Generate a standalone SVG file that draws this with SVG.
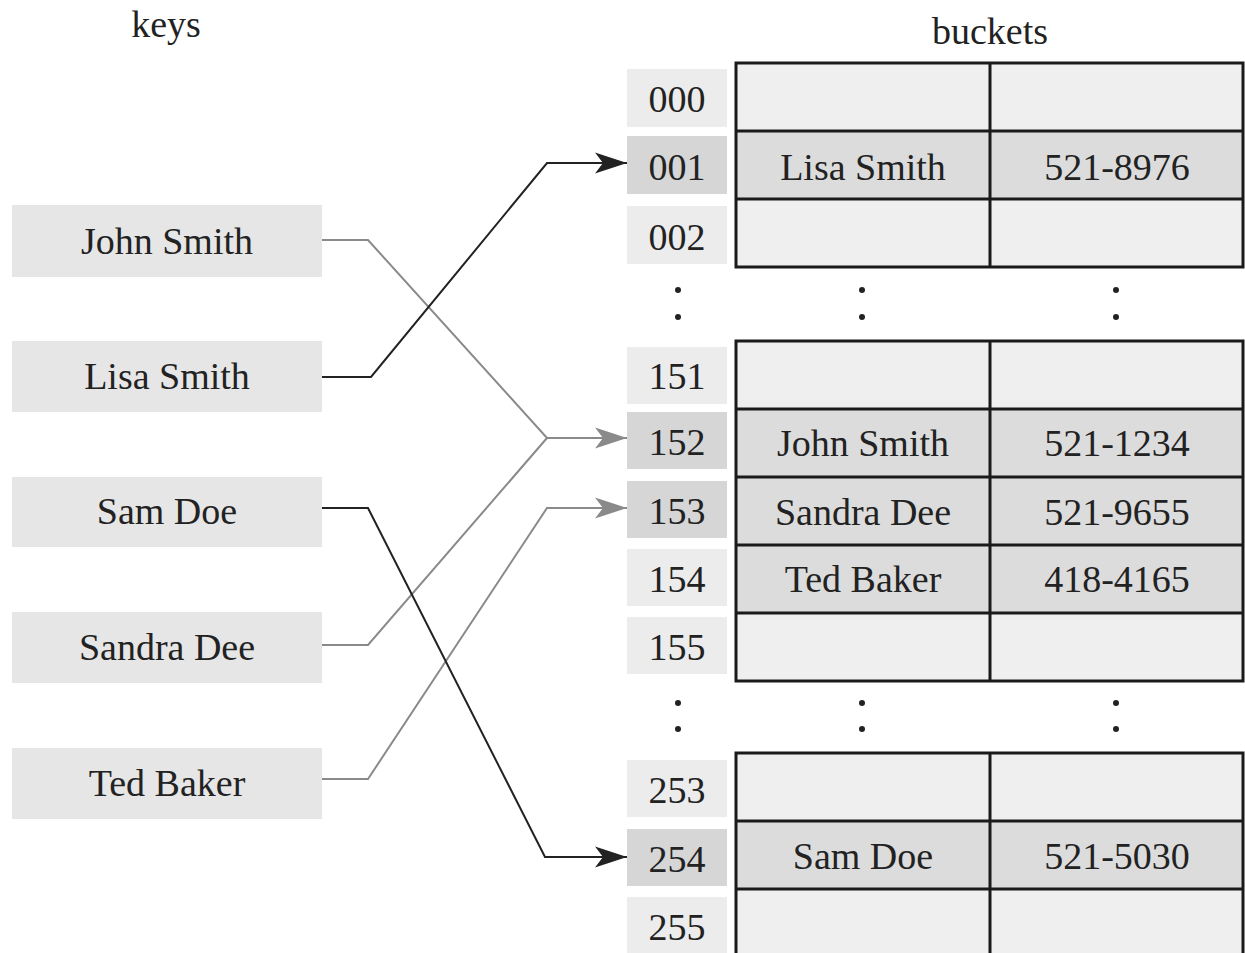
<svg xmlns="http://www.w3.org/2000/svg" width="1245" height="953" viewBox="0 0 1245 953">
<style>
text{font-family:"Liberation Serif","Times New Roman",serif;font-size:38px;fill:#222;text-anchor:middle}
.key{fill:#e6e6e6}
.idx{fill:#ececec}
.idxh{fill:#d6d6d6}
.ce{fill:#efefef}
.cf{fill:#dcdcdc}
.grid{stroke:#1a1a1a;stroke-width:3;fill:none}
.cg{stroke:#8a8a8a;stroke-width:2;fill:none}
.cb{stroke:#222;stroke-width:2;fill:none}
.dot{fill:#222}
</style>
<defs>
<marker id="ag" markerUnits="userSpaceOnUse" markerWidth="34" markerHeight="24" viewBox="0 0 34 24" refX="32" refY="12" orient="auto"><path d="M0,1.5 L32,12 L0,22.5 L8,12 Z" fill="#8a8a8a"/></marker>
<marker id="ab" markerUnits="userSpaceOnUse" markerWidth="34" markerHeight="24" viewBox="0 0 34 24" refX="32" refY="12" orient="auto"><path d="M0,1.5 L32,12 L0,22.5 L8,12 Z" fill="#222"/></marker>
</defs>
<rect width="1245" height="953" fill="#fff"/>
<text x="166" y="37">keys</text>
<text x="990" y="44">buckets</text>

<g id="key-john"><rect class="key" x="12" y="205" width="310" height="72"/><text x="167" y="254">John Smith</text></g>
<g id="key-lisa"><rect class="key" x="12" y="341" width="310" height="71"/><text x="167" y="389">Lisa Smith</text></g>
<g id="key-sam"><rect class="key" x="12" y="477" width="310" height="70"/><text x="167" y="524">Sam Doe</text></g>
<g id="key-sandra"><rect class="key" x="12" y="612" width="310" height="71"/><text x="167" y="660">Sandra Dee</text></g>
<g id="key-ted"><rect class="key" x="12" y="748" width="310" height="71"/><text x="167" y="796">Ted Baker</text></g>

<g id="section1">
<rect class="ce" x="736" y="63" width="507" height="68"/>
<rect class="cf" x="736" y="131" width="507" height="68"/>
<rect class="ce" x="736" y="199" width="507" height="68"/>
<rect class="idx" x="627" y="69" width="100" height="58"/><text x="677" y="112">000</text>
<g id="b001"><rect class="idxh" x="627" y="136" width="100" height="58"/><text x="677" y="180">001</text>
<text x="863" y="180">Lisa Smith</text><text x="1117" y="180">521-8976</text></g>
<rect class="idx" x="627" y="206" width="100" height="58"/><text x="677" y="250">002</text>
<path class="grid" d="M736,63 H1243 V267 H736 Z M736,131 H1243 M736,199 H1243 M990,63 V267"/>
</g>

<g id="dots1">
<circle class="dot" cx="678" cy="290" r="3"/><circle class="dot" cx="678" cy="317" r="3"/>
<circle class="dot" cx="862" cy="290" r="3"/><circle class="dot" cx="862" cy="317" r="3"/>
<circle class="dot" cx="1116" cy="290" r="3"/><circle class="dot" cx="1116" cy="317" r="3"/>
</g>

<g id="section2">
<rect class="ce" x="736" y="341" width="507" height="68"/>
<rect class="cf" x="736" y="409" width="507" height="204"/>
<rect class="ce" x="736" y="613" width="507" height="68"/>
<rect class="idx" x="627" y="347" width="100" height="57"/><text x="677" y="389">151</text>
<g id="b152"><rect class="idxh" x="627" y="412" width="100" height="57"/><text x="677" y="455">152</text>
<text x="863" y="456">John Smith</text><text x="1117" y="456">521-1234</text></g>
<g id="b153"><rect class="idxh" x="627" y="481" width="100" height="57"/><text x="677" y="524">153</text>
<text x="863" y="525">Sandra Dee</text><text x="1117" y="525">521-9655</text></g>
<g id="b154"><rect class="idx" x="627" y="549" width="100" height="57"/><text x="677" y="592">154</text>
<text x="863" y="592">Ted Baker</text><text x="1117" y="592">418-4165</text></g>
<rect class="idx" x="627" y="617" width="100" height="57"/><text x="677" y="660">155</text>
<path class="grid" d="M736,341 H1243 V681 H736 Z M736,409 H1243 M736,477 H1243 M736,545 H1243 M736,613 H1243 M990,341 V681"/>
</g>

<g id="dots2">
<circle class="dot" cx="678" cy="703" r="3"/><circle class="dot" cx="678" cy="729" r="3"/>
<circle class="dot" cx="862" cy="703" r="3"/><circle class="dot" cx="862" cy="729" r="3"/>
<circle class="dot" cx="1116" cy="703" r="3"/><circle class="dot" cx="1116" cy="729" r="3"/>
</g>

<g id="section3">
<rect class="ce" x="736" y="753" width="507" height="68"/>
<rect class="cf" x="736" y="821" width="507" height="68"/>
<rect class="ce" x="736" y="889" width="507" height="68"/>
<rect class="idx" x="627" y="760" width="100" height="57"/><text x="677" y="803">253</text>
<g id="b254"><rect class="idxh" x="627" y="829" width="100" height="57"/><text x="677" y="872">254</text>
<text x="863" y="869">Sam Doe</text><text x="1117" y="869">521-5030</text></g>
<rect class="idx" x="627" y="897" width="100" height="57"/><text x="677" y="940">255</text>
<path class="grid" d="M736,960 V753 H1243 V960 M736,821 H1243 M736,889 H1243 M990,753 V960"/>
</g>

<g id="connectors">
<path class="cg" d="M322,240 H368 L547,438 H627" marker-end="url(#ag)"/>
<path class="cg" d="M322,645 H368 L547,438"/>
<path class="cg" d="M322,779 H368 L547,508 H627" marker-end="url(#ag)"/>
<path class="cb" d="M322,377 H371 L547,163 H627" marker-end="url(#ab)"/>
<path class="cb" d="M322,508 H368 L545,857 H627" marker-end="url(#ab)"/>
</g>
</svg>
